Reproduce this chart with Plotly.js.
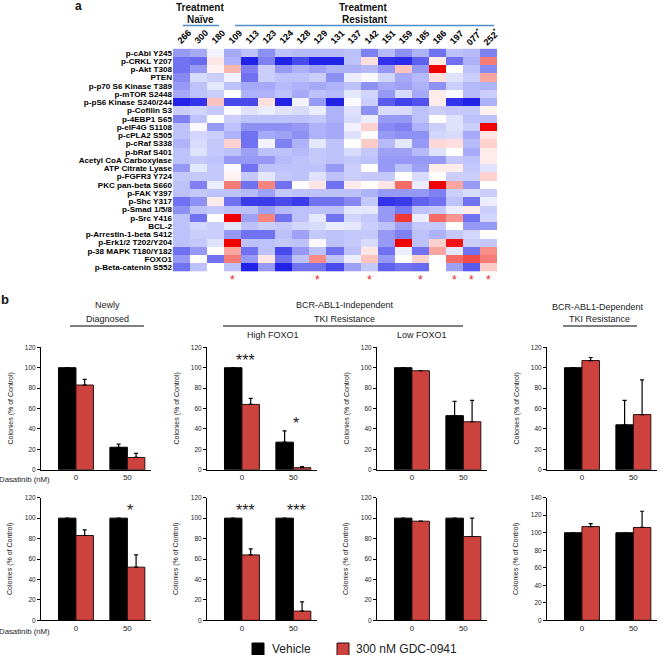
<!DOCTYPE html>
<html><head><meta charset="utf-8">
<script src="https://cdn.plot.ly/plotly-3.0.1.min.js"></script>
<style>html,body{margin:0;padding:0;background:#fff}#chart{width:669px;height:655px}</style>
</head><body><div id="chart"></div>
<script>
const W = 669, H = 655;
const FONT = 'Liberation Sans, Arial, sans-serif';

// ---------- panel a data ----------
const samples = ['266','300','180','109','113','123','124','128','129','131','137','142','151','159','185','186','197','077<sup>*</sup>','252<sup>*</sup>'];
const starSamples = ['109','129','142','185','197','077<sup>*</sup>','252<sup>*</sup>'];
const proteins = ['p-cAbl Y245','p-CRKL Y207','p-Akt T308','PTEN','p-p70 S6 Kinase T389','p-mTOR S2448','p-pS6 Kinase S240/244','p-Cofilin S3','p-4EBP1 S65','p-eIF4G S1108','p-cPLA2 S505','p-cRaf S338','p-bRaf S401','Acetyl CoA Carboxylase','ATP Citrate Lyase','p-FGFR3 Y724','PKC pan-beta S660','p-FAK Y397','p-Shc Y317','p-Smad 1/5/8','p-Src Y416','BCL-2','p-Arrestin-1-beta S412','p-Erk1/2 T202/Y204','p-38 MAPK T180/Y182','FOXO1','p-Beta-catenin S552'];
const heat = [
 [-1.5,-1.3,-0.2,-1.3,-1.0,-1.6,-1.0,-1.1,-1.1,-1.1,-1.0,-1.8,-1.1,-1.6,-1.2,-2.0,-1.0,-1.1,-1.8],
 [-2.0,-2.1,0.4,-1.2,-3.2,-1.8,-3.5,-2.5,-3.0,-3.0,-1.0,0.5,-2.8,-2.9,-2.2,0.3,-2.0,-1.2,1.8],
 [-2.0,-1.5,0.2,1.1,-1.8,-0.8,-1.5,-1.2,-1.4,-1.2,-1.2,-1.1,-1.5,0.9,-1.5,3.0,0,-1.0,-1.7],
 [-1.7,-0.6,-0.8,-0.2,-2.0,-0.8,-1.0,-1.0,-0.8,-1.6,-0.3,-0.1,-0.7,-1.3,-1.1,0.5,-0.5,-0.8,1.3],
 [-1.5,-1.0,-0.4,-1.0,-1.3,-1.3,-1.1,-1.2,-1.3,-1.2,-1.0,-1.6,-1.3,-1.4,-1.2,-1.6,-0.8,-1.1,-1.2],
 [-1.3,-1.0,-0.8,0,-1.2,-1.2,-1.0,-1.3,-1.0,-1.1,-0.4,-0.7,-1.5,-0.6,-1.3,0.3,-0.1,-1.1,-0.8],
 [-3.0,-2.8,0.9,-2.5,-2.5,0.5,-3.2,-0.2,-1.5,-3.2,-0.1,-0.8,-2.3,-2.6,-2.4,0.3,-2.8,-3.0,-1.2],
 [-0.8,-0.7,-0.9,-0.1,-0.5,-0.3,-0.5,-0.6,-0.3,-1.2,-0.5,-1.6,-0.6,-0.6,-1.0,-0.8,-0.9,-0.9,0.2],
 [-1.8,-1.0,0,-0.8,-1.0,-1.0,-1.0,-1.0,-0.9,-1.2,-0.6,-0.3,-1.5,-1.5,-1.0,0,-0.5,-1.0,-1.0],
 [-1.0,-0.1,-1.5,-1.0,-1.6,-1.6,-1.6,-1.5,-1.2,-1.3,-0.2,0.7,-1.7,-1.8,-1.2,-0.8,-0.5,-0.8,3.0],
 [-1.0,-0.7,-0.8,-1.2,-2.0,-1.3,-1.4,-1.6,-1.2,-1.3,-0.5,0.05,-1.5,-1.6,-1.6,-0.7,-0.6,-1.3,0.4],
 [-1.2,-0.6,-0.9,0.7,-2.0,-0.2,-1.8,-1.2,-0.4,-1.0,0,0.8,-1.1,-0.4,-1.5,0.6,0.5,-1.1,0.7],
 [-1.0,-0.5,-0.9,-1.0,-1.4,-1.0,-1.0,-1.1,-0.9,-1.0,-0.6,-0.9,-1.4,-1.4,-1.1,-0.5,0,-1.3,0.3],
 [-1.0,-0.9,-1.0,-1.5,-1.5,-1.5,-1.1,-1.0,-0.9,-1.0,-0.9,-1.0,-1.5,-1.5,-1.5,-1.5,-0.9,-1.0,0.3],
 [-1.5,-0.4,-0.9,-0.1,-2.0,-1.0,-1.0,-1.0,-1.0,-1.5,-0.8,0,-1.5,-1.0,-1.4,0.3,0.3,-0.9,-0.5],
 [-0.9,-0.9,-0.9,0.2,-0.9,-0.4,-0.9,-1.0,-0.5,-1.0,-0.8,-0.9,-0.9,0,-0.6,0,-0.8,-0.8,0.7],
 [-1.0,-1.8,-0.3,1.8,-2.0,1.7,-2.0,0,0.4,-2.0,0.3,0,0.4,2.0,-0.3,3.0,1.3,-1.5,0],
 [-1.0,-0.9,-1.0,-1.0,-1.1,-1.4,-0.9,-1.0,-1.0,-1.0,-1.0,-1.2,-1.5,-1.5,-1.5,-1.8,-0.8,-0.6,-0.8],
 [-2.0,-1.6,0.3,-2.0,-2.7,-2.7,-2.5,-2.7,-2.0,-2.0,-1.7,-0.9,-2.8,-2.7,-2.2,-2.0,-1.0,-2.0,-0.3],
 [-1.6,-1.0,-0.9,-1.0,-1.0,-1.4,-1.1,-1.0,-1.0,-1.0,-0.4,-0.4,-1.5,-1.9,-1.0,-0.9,-0.3,0.3,-0.8],
 [-1.0,-2.0,0,3.0,-1.4,1.7,-2.0,-1.0,-0.4,-2.0,-0.7,-0.9,-1.5,2.5,-0.3,2.0,1.5,-2.0,-0.7],
 [-1.0,-0.7,-0.8,-0.4,-1.0,-0.8,-0.9,-0.7,-0.6,-0.3,-0.4,-0.8,-1.0,-1.4,-0.9,-0.9,0,-1.5,-1.5],
 [-1.0,-0.8,-0.8,-1.5,-2.0,-2.0,-1.0,-1.4,-0.9,-1.0,-0.9,-0.9,-1.5,-1.8,-1.0,-1.2,-0.9,-0.7,0],
 [-1.0,-0.9,-0.5,3.0,-1.0,-1.0,-0.9,-1.0,-0.1,-1.0,-0.9,-0.6,-1.5,3.0,-1.0,0.7,2.8,-0.8,-0.9],
 [-2.0,-1.5,0,1.3,-2.0,-1.0,-2.5,-1.5,-1.0,-2.0,-1.0,0.4,-2.0,-0.3,-2.0,1.3,-0.4,-2.0,1.6],
 [-1.5,0,-2.0,1.8,-1.5,0.4,-2.0,-1.0,1.6,-1.0,-0.3,0.9,-1.5,0,0.7,0,2.0,2.3,1.8],
 [-2.0,-1.0,0,-1.0,-3.0,-1.5,-3.0,-2.0,-2.0,-2.5,-1.4,-0.9,-2.2,-2.0,-2.1,0,-1.4,-2.3,0.8]
];

// ---------- panel b data ----------
const doses = ['0', '50'];
// Newly diagnosed
const ndTopVeh = [100, 22],  ndTopVehErr = [0, 3],   ndTopGdc = [83, 12],  ndTopGdcErr = [5.5, 4];
const ndBotVeh = [100, 100], ndBotVehErr = [0, 0],   ndBotGdc = [83, 52],  ndBotGdcErr = [5.5, 12];
// BCR-ABL1-independent, high FOXO1
const hiTopVeh = [100, 27],  hiTopVehErr = [0, 11],  hiTopGdc = [64, 2],   hiTopGdcErr = [6, 1];
const hiBotVeh = [100, 100], hiBotVehErr = [0, 0],   hiBotGdc = [64, 9],   hiBotGdcErr = [6, 9];
// BCR-ABL1-independent, low FOXO1
const loTopVeh = [100, 53],  loTopVehErr = [0, 14],  loTopGdc = [97, 47],  loTopGdcErr = [0, 21];
const loBotVeh = [100, 100], loBotVehErr = [0, 0],   loBotGdc = [97, 82],  loBotGdcErr = [0, 18];
// BCR-ABL1-dependent
const dpTopVeh = [100, 44],  dpTopVehErr = [0, 24],  dpTopGdc = [107, 54], dpTopGdcErr = [3, 34];
const dpBotVeh = [100, 100], dpBotVehErr = [0, 0],   dpBotGdc = [107, 106], dpBotGdcErr = [3.5, 18.5];
// significance marks per dose
const ndTopSig = ['', ''],   ndBotSig = ['', '*'];
const hiTopSig = ['***', '*'], hiBotSig = ['***', '***'];
const loTopSig = ['', ''],   loBotSig = ['', ''];
const dpTopSig = ['', ''],   dpBotSig = ['', ''];
const yMaxTop = 120, yMaxDepBot = 140;

const seriesNames = ['Vehicle', '300 nM GDC-0941'];
const RED = 'rgb(205,66,60)';

// ---------- helpers ----------
const px = v => v / W;
const py = v => 1 - v / H;

const panels = [
  {veh: ndTopVeh, ve: ndTopVehErr, gdc: ndTopGdc, ge: ndTopGdcErr, sig: ndTopSig, col: 0, row: 0, ymax: yMaxTop},
  {veh: hiTopVeh, ve: hiTopVehErr, gdc: hiTopGdc, ge: hiTopGdcErr, sig: hiTopSig, col: 1, row: 0, ymax: yMaxTop},
  {veh: loTopVeh, ve: loTopVehErr, gdc: loTopGdc, ge: loTopGdcErr, sig: loTopSig, col: 2, row: 0, ymax: yMaxTop},
  {veh: dpTopVeh, ve: dpTopVehErr, gdc: dpTopGdc, ge: dpTopGdcErr, sig: dpTopSig, col: 3, row: 0, ymax: yMaxTop},
  {veh: ndBotVeh, ve: ndBotVehErr, gdc: ndBotGdc, ge: ndBotGdcErr, sig: ndBotSig, col: 0, row: 1, ymax: yMaxTop},
  {veh: hiBotVeh, ve: hiBotVehErr, gdc: hiBotGdc, ge: hiBotGdcErr, sig: hiBotSig, col: 1, row: 1, ymax: yMaxTop},
  {veh: loBotVeh, ve: loBotVehErr, gdc: loBotGdc, ge: loBotGdcErr, sig: loBotSig, col: 2, row: 1, ymax: yMaxTop},
  {veh: dpBotVeh, ve: dpBotVehErr, gdc: dpBotGdc, ge: dpBotGdcErr, sig: dpBotSig, col: 3, row: 1, ymax: yMaxDepBot}
];
const colX = [[41,151],[207,317],[377,487],[547,657]];
const rowY = [[347.3,469.7],[497.7,620.3]];

const traces = [];
const layout = {
  width: W, height: H, margin: {l:0, r:0, t:0, b:0},
  paper_bgcolor: '#fff', plot_bgcolor: 'rgba(0,0,0,0)',
  showlegend: false, bargap: 0.32, bargroupgap: 0, barmode: 'group',
  font: {family: FONT, color: '#000'},
  annotations: [], shapes: []
};
const ann = (o) => layout.annotations.push(Object.assign({showarrow:false, xref:'paper', yref:'paper', xanchor:'center', yanchor:'middle'}, o));

panels.forEach((p, i) => {
  const k = i + 1;
  const xa = 'x' + k, ya = 'y' + k;
  const errBar = (arr) => ({type:'data', symmetric:false, array: arr, arrayminus: arr.map(() => 0), color:'#000', thickness:1.2, width:2});
  traces.push({type:'bar', x: doses, y: p.veh, name: seriesNames[0], xaxis: xa, yaxis: ya,
    marker: {color:'#000', line:{color:'#000', width:1}}, error_y: errBar(p.ve), hoverinfo:'skip'});
  traces.push({type:'bar', x: doses, y: p.gdc, name: seriesNames[1], xaxis: xa, yaxis: ya,
    marker: {color: RED, line:{color:'#2a1010', width:1}}, error_y: errBar(p.ge), hoverinfo:'skip'});
  const [x0, x1] = colX[p.col], [yt, yb] = rowY[p.row];
  layout['xaxis' + k] = {domain:[px(x0), px(x1)], anchor: ya, type:'category', range:[-0.68, 1.46],
    showline:true, linecolor:'#000', linewidth:1, ticks:'', showgrid:false, zeroline:false,
    tickfont:{size:8, family:FONT, color:'#222'}, fixedrange:true};
  layout['yaxis' + k] = {domain:[py(yb), py(yt)], anchor: xa, range:[0, p.ymax], dtick:20,
    showline:true, linecolor:'#000', linewidth:1, ticks:'outside', ticklen:3, tickcolor:'#000',
    showgrid:false, zeroline:false, tickfont:{size:6.5, family:FONT, color:'#222'}, fixedrange:true};
  ann({text:'Colonies (% of Control)', textangle:-90, x: px(x0 - 31), y: py((yt + yb) / 2),
       font:{size:7, family:FONT, color:'#222'}});
  p.sig.forEach((s, j) => {
    if (!s) return;
    const top = Math.max(p.veh[j] + p.ve[j], p.gdc[j] + p.ge[j]);
    layout.annotations.push({showarrow:false, xref: xa, yref: ya, x: j + 0.06, y: top + 7,
      xanchor:'center', yanchor:'middle',
      text: s, font:{size:16, family:FONT, color:'#222'}});
  });
});

// heatmap
traces.push({type:'heatmap', z: heat, x: samples, y: proteins, xaxis:'x9', yaxis:'y9',
  zmin:-3, zmax:3, showscale:false, hoverinfo:'skip',
  colorscale:[[0,'rgb(35,35,232)'],[0.25,'rgb(150,153,245)'],[0.333,'rgb(190,194,250)'],
              [0.42,'rgb(224,226,253)'],[0.5,'rgb(255,255,255)'],[0.58,'rgb(255,224,222)'],
              [0.67,'rgb(252,188,182)'],[0.83,'rgb(245,110,105)'],[1,'rgb(240,0,0)']]});
layout.xaxis9 = {domain:[px(173), px(497)], anchor:'y9', side:'top', type:'category',
  range:[-0.5, samples.length - 0.5], showticklabels:false,
  ticks:'', showline:false, showgrid:false, zeroline:false, fixedrange:true};
layout.yaxis9 = {domain:[py(271.4), py(48.6)], anchor:'x9', type:'category', range:[proteins.length - 0.5, -0.5],
  tickmode:'array', tickvals: proteins, ticktext: proteins,
  ticks:'', showline:false, showgrid:false, zeroline:false,
  tickfont:{size:8.1, family:FONT, weight:'bold', color:'#000'}, fixedrange:true};

// rotated column (sample) labels above heatmap
samples.forEach((s, i) => {
  layout.annotations.push({showarrow:false, xref:'x9', yref:'paper', x: i + 0.15, y: py(37),
    xanchor:'center', yanchor:'middle', textangle:-45, text: s,
    font:{size:9, family:FONT, weight:'bold', color:'#000'}});
});

// heatmap stars
starSamples.forEach(s => {
  layout.annotations.push({showarrow:false, xref:'x9', yref:'paper', x: samples.indexOf(s), y: py(280),
    xanchor:'center', yanchor:'middle', text:'*',
    font:{size:12, family:FONT, color:'rgb(230,30,30)'}});
});

// panel a headers
const boldF = (s) => ({size:s, family:FONT, weight:'bold', color:'#111'});
ann({text:'a', x: px(78), y: py(6), font: boldF(12)});
ann({text:'Treatment', x: px(200), y: py(7.5), font: boldF(10)});
ann({text:'Naïve', x: px(200), y: py(19.5), font: boldF(10)});
ann({text:'Treatment', x: px(363), y: py(7.5), font: boldF(10)});
ann({text:'Resistant', x: px(365), y: py(19.5), font: boldF(10)});
const line = (x0, x1, y, color, w) => layout.shapes.push({type:'line', xref:'paper', yref:'paper',
  x0: px(x0), x1: px(x1), y0: py(y), y1: py(y), line:{color: color, width: w}});
line(183, 219, 25.5, 'rgb(80,140,200)', 1.5);
line(235, 494, 25.5, 'rgb(80,140,200)', 1.5);

// panel b headers
const normF = (s) => ({size:s, family:FONT, color:'#222'});
ann({text:'b', x: px(5), y: py(299), font: boldF(13)});
ann({text:'Newly', x: px(107), y: py(305), font: normF(9)});
ann({text:'Diagnosed', x: px(107), y: py(319), font: normF(9)});
line(70, 144, 326, '#000', 1);
ann({text:'BCR-ABL1-Independent', x: px(345), y: py(305), font: normF(9)});
ann({text:'TKI Resistance', x: px(344), y: py(319), font: normF(9)});
line(223, 463, 326, '#000', 1);
ann({text:'High FOXO1', x: px(273), y: py(335), font: normF(9)});
ann({text:'Low FOXO1', x: px(422), y: py(335), font: normF(9)});
ann({text:'BCR-ABL1-Dependent', x: px(598), y: py(307), font: normF(9)});
ann({text:'TKI Resistance', x: px(599), y: py(319), font: normF(9)});
line(563, 637, 326, '#000', 1);
ann({text:'Dasatinib (nM)', x: px(52), xanchor:'right', y: py(479), font: normF(7.8)});
ann({text:'Dasatinib (nM)', x: px(52), xanchor:'right', y: py(631), font: normF(7.8)});

// legend
const sq = (x0, fill, lc) => layout.shapes.push({type:'rect', xref:'paper', yref:'paper',
  x0: px(x0), x1: px(x0 + 12), y0: py(656), y1: py(643), fillcolor: fill, line:{color: lc, width:1}});
sq(252, '#000', '#000');
sq(337, RED, '#2a1010');
ann({text: seriesNames[0], x: px(270), xanchor:'left', y: py(649), font: normF(12)});
ann({text: seriesNames[1], x: px(354), xanchor:'left', y: py(649), font: normF(12)});

Plotly.newPlot('chart', traces, layout, {staticPlot:true, displayModeBar:false});
</script>
</body></html>
